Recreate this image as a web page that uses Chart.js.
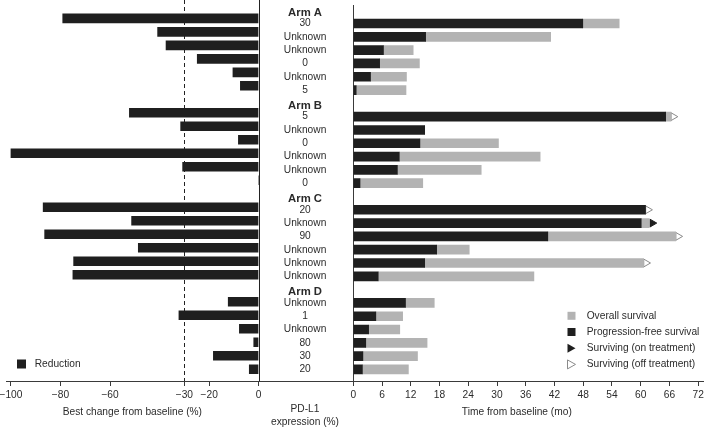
<!DOCTYPE html>
<html>
<head>
<meta charset="utf-8">
<script src="https://cdn.jsdelivr.net/npm/chart.js@4.4.0/dist/chart.umd.min.js"></script>
<style>
  body { margin: 0; background: #fff; }
  #wrap { position: relative; width: 709px; height: 428px; overflow: hidden; }
  canvas { position: absolute; top: 0; }
  #left { left: -10px; }
  #right { left: 256px; }
</style>
</head>
<body>
<div id="wrap">
  <canvas id="left" width="278" height="428"></canvas>
  <canvas id="right" width="453" height="428"></canvas>
</div>
<script>
// Data
const arms = ['Arm A', 'Arm B', 'Arm C', 'Arm D'];
const pdl1 = [
  '30', 'Unknown', 'Unknown', '0', 'Unknown', '5',
  '5', 'Unknown', '0', 'Unknown', 'Unknown', '0',
  '20', 'Unknown', '90', 'Unknown', 'Unknown', 'Unknown',
  'Unknown', '1', 'Unknown', '80', '30', '20'
];
const bestChange = [
  -79.1, -40.8, -37.4, -24.8, -10.4, -7.4,
  -52.2, -31.5, -8.2, -100, -30.7, 0,
  -87.0, -51.3, -86.4, -48.6, -74.7, -75.0,
  -12.3, -32.2, -7.8, -2.0, -18.3, -3.8
];
const pfs = [
  47.9, 15.1, 6.3, 5.5, 3.6, 0.6,
  65.2, 14.9, 13.9, 9.6, 9.2, 1.4,
  61.0, 60.1, 40.6, 17.4, 14.9, 5.2,
  10.9, 4.7, 3.2, 2.6, 2.0, 1.9
];
const os = [
  55.5, 41.2, 12.5, 13.8, 11.1, 11.0,
  66.3, 14.9, 30.3, 39.0, 26.7, 14.5,
  61.0, 61.8, 67.3, 24.2, 60.6, 37.7,
  16.9, 10.3, 9.7, 15.4, 13.4, 11.5
];
const onTreatment = [13];
const offTreatment = [6, 12, 14, 16];
const changeTicks = [-100, -80, -60, -30, -20, 0];
const timeTicks = [0, 6, 12, 18, 24, 30, 36, 42, 48, 54, 60, 66, 72];

const DARK = '#1f1f1f';
const GRAY = '#b3b3b3';
const TEXT = '#2b2b2b';
const AXIS = '#3a3a3a';
const FONT = "'Liberation Sans', Arial, sans-serif";

Chart.defaults.font.family = FONT;
Chart.defaults.font.size = 10.2;
Chart.defaults.color = TEXT;

// each arm: header row + 6 patients
const perArm = 6;
function slotOf(p) { return Math.floor(p / perArm) * (perArm + 1) + 1 + (p % perArm); }
const rowLabels = [];
const headerRows = [];
arms.forEach((a, k) => {
  headerRows.push(rowLabels.length);
  rowLabels.push(a);
  pdl1.slice(k * perArm, (k + 1) * perArm).forEach(l => rowLabels.push(l));
});
const yMin = -0.356, yMax = 27.87;

const minus = v => v < 0 ? '\u2212' + Math.abs(v) : String(v);

// reference lines at 0 and -30, plus the "Reduction" key
const refLines = {
  id: 'refLines',
  beforeDatasetsDraw(chart) {
    const {ctx, chartArea: a, scales: {x}} = chart;
    ctx.save();
    ctx.strokeStyle = '#222';
    ctx.lineWidth = 1;
    ctx.setLineDash([4, 3]);
    let px = Math.round(x.getPixelForValue(-30)) + 0.5;
    ctx.beginPath(); ctx.moveTo(px, a.top); ctx.lineTo(px, a.bottom); ctx.stroke();
    ctx.setLineDash([]);
    px = Math.round(x.getPixelForValue(0)) + 0.5;
    ctx.beginPath(); ctx.moveTo(px, a.top); ctx.lineTo(px, a.bottom); ctx.stroke();
    ctx.restore();
  },
  afterDraw(chart) {
    const ctx = chart.ctx;
    ctx.save();
    ctx.fillStyle = DARK;
    ctx.fillRect(27, 359.5, 9, 9);
    ctx.fillStyle = TEXT;
    ctx.font = '10.2px ' + FONT;
    ctx.textBaseline = 'middle';
    ctx.fillText('Reduction', 44.7, 364.5);
    ctx.restore();
  }
};

new Chart(document.getElementById('left'), {
  type: 'bar',
  data: {
    datasets: [{
      data: bestChange.map((v, i) => ({x: v, y: slotOf(i)})),
      backgroundColor: DARK,
      barThickness: 9
    }]
  },
  options: {
    indexAxis: 'y',
    responsive: false,
    animation: false,
    layout: { padding: { left: 16, right: 9.3, top: 0, bottom: 0 } },
    plugins: { legend: { display: false }, tooltip: { enabled: false } },
    scales: {
      x: {
        type: 'linear', min: -102, max: 0,
        afterBuildTicks: s => { s.ticks = changeTicks.map(v => ({value: v})); },
        afterFit: s => { s.height = 47; },
        grid: { drawOnChartArea: false, tickLength: 5, color: AXIS, tickColor: AXIS },
        border: { color: AXIS },
        ticks: { padding: 3, autoSkip: false, maxRotation: 0, callback: v => minus(v) },
        title: { display: true, text: 'Best change from baseline (%)', padding: { top: 0, bottom: 9.9 } }
      },
      y: { type: 'linear', reverse: true, min: yMin, max: yMax, offset: false, display: false }
    }
  },
  plugins: [refLines]
});

// legend, titles and the axis line under the PD-L1 column
const survivalExtras = {
  id: 'survivalExtras',
  afterDraw(chart) {
    const {ctx, chartArea: a} = chart;
    ctx.save();
    const by = Math.floor(a.bottom) + 0.5;
    ctx.strokeStyle = AXIS;
    ctx.lineWidth = 1;
    ctx.beginPath(); ctx.moveTo(0, by); ctx.lineTo(a.left, by); ctx.stroke();

    ctx.font = '10.2px ' + FONT;
    ctx.fillStyle = TEXT;
    ctx.textBaseline = 'middle';
    ctx.textAlign = 'center';
    ctx.fillText('Time from baseline (mo)', 260.8, 412);
    ctx.fillText('PD-L1', 49, 409.5);
    ctx.fillText('expression (%)', 49, 422);
    ctx.textAlign = 'left';
    const items = [
      ['Overall survival', 'gray'],
      ['Progression-free survival', 'dark'],
      ['Surviving (on treatment)', 'on'],
      ['Surviving (off treatment)', 'off']
    ];
    const sx = 311.5, tx = 330.7;
    items.forEach(([label, kind], k) => {
      const cy = 315.8 + k * 16.2;
      if (kind === 'gray' || kind === 'dark') {
        ctx.fillStyle = kind === 'gray' ? GRAY : DARK;
        ctx.fillRect(sx, cy - 4, 8, 8);
      } else {
        ctx.beginPath();
        ctx.moveTo(sx, cy - 4.5);
        ctx.lineTo(sx + 8, cy);
        ctx.lineTo(sx, cy + 4.5);
        ctx.closePath();
        if (kind === 'on') {
          ctx.fillStyle = DARK; ctx.fill();
        } else {
          ctx.fillStyle = '#fff'; ctx.fill();
          ctx.strokeStyle = '#8a8a8a'; ctx.lineWidth = 1; ctx.stroke();
        }
      }
      ctx.fillStyle = TEXT;
      ctx.fillText(label, tx, cy);
    });
    ctx.restore();
  }
};

new Chart(document.getElementById('right'), {
  type: 'bar',
  data: {
    datasets: [
      {
        data: pfs.map((v, i) => ({x: v, y: slotOf(i)})),
        backgroundColor: DARK, barThickness: 9, grouped: false
      },
      {
        data: os.map((v, i) => ({x: [pfs[i], v], y: slotOf(i)})),
        backgroundColor: GRAY, barThickness: 9, grouped: false
      },
      {
        type: 'scatter',
        data: onTreatment.map(i => ({x: os[i] + 0.6, y: slotOf(i)})),
        pointStyle: 'triangle', rotation: 90, radius: 4.5,
        backgroundColor: DARK, borderColor: DARK, borderWidth: 1
      },
      {
        type: 'scatter',
        data: offTreatment.map(i => ({x: os[i] + 0.5, y: slotOf(i)})),
        pointStyle: 'triangle', rotation: 90, radius: 4.5,
        backgroundColor: '#fff', borderColor: '#8a8a8a', borderWidth: 1
      }
    ]
  },
  options: {
    indexAxis: 'y',
    responsive: false,
    animation: false,
    layout: { padding: { left: 0, right: 2, top: 0, bottom: 0 } },
    plugins: { legend: { display: false }, tooltip: { enabled: false } },
    scales: {
      x: {
        type: 'linear', min: 0, max: 73.1,
        afterBuildTicks: s => { s.ticks = timeTicks.map(v => ({value: v})); },
        afterFit: s => { s.height = 47; },
        grid: { drawOnChartArea: false, tickLength: 5, color: AXIS, tickColor: AXIS },
        border: { color: AXIS },
        ticks: { padding: 3, autoSkip: false, maxRotation: 0 }
      },
      y: {
        type: 'linear', reverse: true, min: yMin, max: yMax, offset: false, position: 'left',
        afterBuildTicks: s => {
          s.ticks = rowLabels.map((l, i) => ({value: headerRows.includes(i) ? i + 0.18 : i}));
        },
        afterFit: s => { s.width = 97.3; s.paddingTop = 0; s.paddingBottom = 0; },
        grid: { display: true, drawOnChartArea: false, drawTicks: false },
        border: { display: true, color: AXIS },
        ticks: {
          autoSkip: false,
          crossAlign: 'center',
          padding: 27,
          color: TEXT,
          callback: (v, i) => rowLabels[i],
          font: c => headerRows.includes(c.index) ? {size: 11.3, weight: 'bold'} : {size: 10.2}
        }
      }
    }
  },
  plugins: [survivalExtras]
});
</script>
</body>
</html>
